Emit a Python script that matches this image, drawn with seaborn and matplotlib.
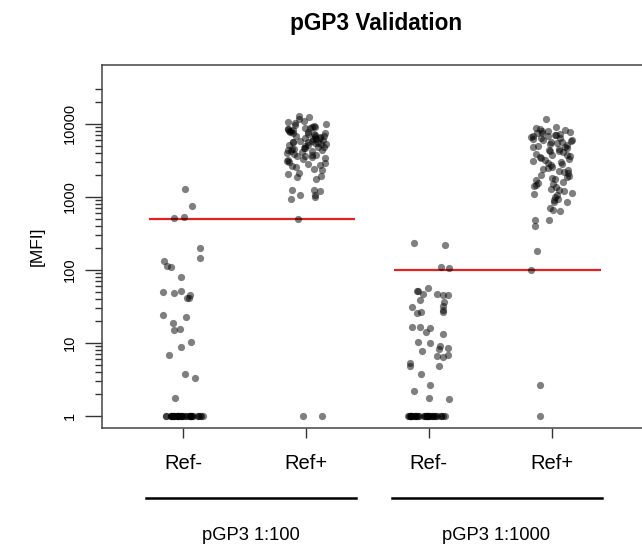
import numpy as np
import pandas as pd
import matplotlib
matplotlib.use("Agg")
import matplotlib.pyplot as plt
import matplotlib.transforms as mtransforms
from matplotlib.ticker import FixedLocator, NullFormatter
import seaborn as sns

# values (MFI, log axis)
tick_labels = ["Ref-", "Ref+", "Ref-", "Ref+"]
dilutions = ["pGP3 1:100", "pGP3 1:1000"]
cutoffs = [500, 100]

neg_100 = [1300, 760, 520, 530, 200, 145, 115, 110, 135, 81, 50, 52, 41, 48, 45,
           42, 24, 23, 19, 15.7, 15, 10.4, 8.9, 6.9, 3.8, 3.3, 1.8] + [1] * 35

pos_100 = [12900, 12300, 11600, 11000, 10700, 10300, 9900, 9800, 9400, 9200,
           9000, 8900, 8700, 8600, 8400, 8200, 8100, 7900, 7800, 7700, 7600,
           7500, 7300, 7200, 7000, 6900, 6800, 6700, 6600, 6500, 6450, 6300,
           6200, 6100, 5900, 5800, 5700, 5650, 5600, 5500, 5400, 5300, 5250,
           5200, 5100, 4950, 4900, 4800, 4750, 4700, 4600, 4500, 4450, 4350,
           4300, 4200, 4100, 4000, 3900, 3800, 3750, 3650, 3600, 3500, 3400,
           3300, 3200, 3100, 3050, 2900, 2800, 2700, 2650, 2600, 2400, 2340,
           2100, 2050, 1950, 1900, 1780, 1230, 1230, 1200, 1070, 1070, 1000,
           930, 500, 1, 1]

neg_1000 = [233, 219, 111, 107, 47, 51, 52, 45, 46, 47, 57, 39, 32, 36, 31, 25.6,
            27, 28, 27, 16.7, 14.2, 16, 16.6, 13.3, 9.9, 9.2, 10.4, 8.5, 8.4, 7.8,
            6.9, 6.6, 6.4, 5.3, 4.8, 4.9, 3.8, 2.7, 2.2, 1.73, 1.75] + [1] * 35

pos_1000 = [11600, 9200, 8800, 8500, 8300, 8100, 8000, 7800, 7600, 7500, 7300,
            7100, 7000, 6900, 6800, 6600, 6500, 6400, 6200, 6100, 6000, 5800,
            5700, 5600, 5500, 5300, 5200, 5000, 4900, 4800, 4700, 4500, 4400,
            4300, 4200, 4100, 3900, 3800, 3700, 3600, 3500, 3400, 3300, 3200,
            3100, 3000, 2900, 2800, 2700, 2600, 2500, 2400, 2350, 2300, 2200,
            2100, 2000, 1950, 1900, 1800, 1750, 1700, 1600, 1550, 1500, 1450,
            1400, 1350, 1300, 1250, 1200, 1150, 1100, 1050, 1000, 950, 910, 860,
            850, 700, 660, 645, 485, 487, 405, 183, 100, 2.7, 1]

keys = ["neg_100", "pos_100", "neg_1000", "pos_1000"]
series = [neg_100, pos_100, neg_1000, pos_1000]
df = pd.concat([pd.DataFrame({"group": k, "mfi": v}) for k, v in zip(keys, series)],
               ignore_index=True)

plt.rcParams["font.family"] = ["Liberation Sans", "DejaVu Sans"]

fig = plt.figure(figsize=(6.42, 5.46), dpi=100)
ax = fig.add_axes([102 / 642, 1 - 428 / 546, (650 - 102) / 642, (428 - 65) / 546])

np.random.seed(3)
for i, c in enumerate(cutoffs):
    x0 = 2 * i
    ax.hlines(c, x0 - 0.28, x0 + 1.4, color="#e02222", lw=1.6, zorder=1)

sns.stripplot(data=df, x="group", y="mfi", order=keys, jitter=0.17, size=5.2,
              color="black", alpha=0.5, linewidth=0, log_scale=True, ax=ax, zorder=3)

ax.set_xlim(-0.66, 3.8)
ax.set_ylim(0.69, 64000)

ax.yaxis.set_major_locator(FixedLocator([1, 10, 100, 1000, 10000]))
ax.set_yticklabels(["1", "10", "100", "1000", "10000"], rotation=90, va="center",
                   fontsize=10.5)
minor = [m * 10 ** k for k in range(4) for m in range(2, 10)] + [20000, 30000]
ax.yaxis.set_minor_locator(FixedLocator(minor))
ax.yaxis.set_minor_formatter(NullFormatter())
ax.tick_params(axis="y", which="major", length=12, width=1, pad=6, color="#333333")
ax.tick_params(axis="y", which="minor", length=5, width=1, color="#333333")

ax.set_xticks(range(4))
ax.set_xticklabels(tick_labels, fontsize=14.5)
ax.tick_params(axis="x", length=7.5, width=1, pad=11, color="#333333")

ax.set_xlabel("")
ax.set_ylabel("[MFI]", fontsize=12.5, labelpad=13)
ax.set_title("pGP3 Validation", fontsize=16.3, fontweight="bold", pad=25)

for s in ax.spines.values():
    s.set_color("#444444")
    s.set_linewidth(1.1)

trans = mtransforms.blended_transform_factory(ax.transData, ax.transAxes)
for i, lab in enumerate(dilutions):
    x0 = 2 * i
    ax.plot([x0 - 0.3, x0 + 1.41], [-0.193, -0.193], transform=trans,
            clip_on=False, color="black", lw=1.8)
    ax.text(x0 + 0.55, -0.295, lab, transform=trans, ha="center", va="center",
            fontsize=13.2)

fig.savefig("out.png", dpi=100)
